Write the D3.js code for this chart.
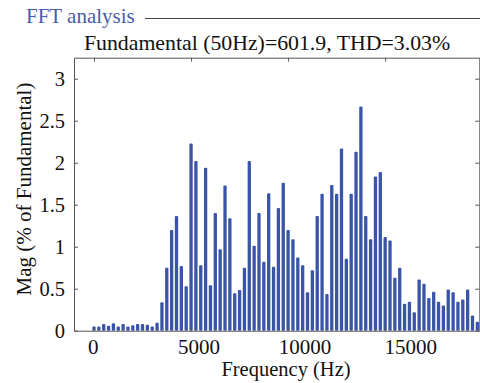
<!DOCTYPE html>
<html><head><meta charset="utf-8">
<script src="https://cdn.jsdelivr.net/npm/d3@7/dist/d3.min.js"></script>
<style>
html,body{margin:0;padding:0;background:#fff;}
svg{display:block;}
</style></head>
<body>
<svg id="chart" width="480" height="383"></svg>
<script>
// ---- data ----
const harmonicStepHz = 250;
const magnitudes = [
  0.05, 0.05, 0.08, 0.06, 0.09, 0.05, 0.08, 0.05, 0.065, 0.08, 0.08, 0.07, 0.05, 0.095,
  0.34, 0.75, 1.2, 1.365, 0.77, 0.53, 2.23, 2.02, 0.78, 1.94, 0.54, 1.40, 0.97, 1.73,
  1.34, 0.445, 0.485, 0.75, 2.02, 1.01, 1.40, 0.82, 1.635, 0.76, 1.46, 1.76, 1.2, 1.09,
  0.87, 0.78, 0.457, 0.72, 1.365, 1.63, 0.437, 1.735, 1.63, 2.17, 0.857, 1.63, 2.13, 2.67,
  1.365, 1.09, 1.835, 1.89, 1.115, 1.075, 0.63, 0.75, 0.32, 0.345, 0.22, 0.61, 0.56, 0.39,
  0.465, 0.345, 0.30, 0.49, 0.457, 0.345, 0.37, 0.49, 0.18, 0.107
];
const frequencies = magnitudes.map((_, i) => i * harmonicStepHz);
const xTicks = [0, 5000, 10000, 15000];
const yTicks = [0, 0.5, 1, 1.5, 2, 2.5, 3];
const headerText = "FFT analysis";
const titleText = "Fundamental (50Hz)=601.9, THD=3.03%";
const xLabelText = "Frequency (Hz)";
const yLabelText = "Mag (% of Fundamental)";

// ---- layout ----
const FONT = "'Liberation Serif', 'Times New Roman', serif";
const svg = d3.select("#chart").attr("font-family", "Liberation Serif").style("font-family", FONT);
const L = 74, R = 479.3, T = 57.7, B = 330.7;
const barColor = "#3a54a8";
const axisColor = "#555";

const x = d3.scaleLinear().domain([-1030, 19850]).range([L, R]);
const xLab = d3.scaleLinear().domain([0, 15000]).range([92.8, 410.2]);
const y = d3.scaleLinear().domain([0, 3.25]).range([B, T]);

function txt(sel) { return sel.attr("font-family", "Liberation Serif").style("font-family", FONT); }

// bars
const g = svg.append("g");
g.selectAll("rect.bar").data(frequencies).join("rect").attr("class", "bar")
  .attr("x", d => x(d) - 1.65).attr("width", 3.3)
  .attr("y", (d, i) => y(magnitudes[i]))
  .attr("height", (d, i) => y(0) - y(magnitudes[i]))
  .attr("rx", 1).attr("fill", barColor);

// axes
function styleAxis(sel) {
  sel.attr("font-family", "Liberation Serif").style("font-family", FONT);
  sel.selectAll("path").attr("stroke", axisColor);
  sel.selectAll("line").attr("stroke", axisColor);
  sel.selectAll("text").attr("fill", "#111").call(txt);
}
const yLeft = svg.append("g").attr("transform", `translate(${L},0)`)
  .call(d3.axisLeft(y).tickValues(yTicks).tickSizeInner(-4).tickSizeOuter(0).tickPadding(9)
    .tickFormat(d3.format("")));
yLeft.selectAll("text").attr("font-size", 20.5);
styleAxis(yLeft);

const yRight = svg.append("g").attr("transform", `translate(${R},0)`)
  .call(d3.axisRight(y).tickValues(yTicks).tickSizeInner(-4).tickSizeOuter(0).tickFormat(""));
styleAxis(yRight);

const xTop = svg.append("g").attr("transform", `translate(0,${T})`)
  .call(d3.axisTop(x).tickValues(xTicks).tickSizeInner(-4).tickSizeOuter(0).tickFormat(""));
styleAxis(xTop);

const xBottomTicks = svg.append("g").attr("transform", `translate(0,${B})`)
  .call(d3.axisBottom(x).tickValues(xTicks).tickSizeInner(-4).tickSizeOuter(0).tickFormat(""));
styleAxis(xBottomTicks);

const xBottomLabels = svg.append("g").attr("transform", `translate(0,${B})`)
  .call(d3.axisBottom(xLab).tickValues(xTicks).tickSize(0).tickPadding(8)
    .tickFormat(d3.format("d")));
xBottomLabels.select("path").remove();
xBottomLabels.selectAll("text").attr("font-size", 21);
styleAxis(xBottomLabels);

// axis labels
txt(svg.append("text")).attr("x", 286).attr("y", 376).attr("font-size", 20.5)
  .attr("text-anchor", "middle").attr("fill", "#111").text(xLabelText);
txt(svg.append("text")).attr("transform", "translate(31,189) rotate(-90)")
  .attr("font-size", 21).attr("text-anchor", "middle").attr("fill", "#111").text(yLabelText);

// header
const head = svg.append("g").attr("class", "header");
txt(head.append("text")).attr("x", 26).attr("y", 23).attr("font-size", 21)
  .attr("fill", "#4a5bab").text(headerText);
head.append("line").attr("x1", 145).attr("x2", 480).attr("y1", 18.5).attr("y2", 18.5)
  .attr("stroke", "#444").attr("stroke-width", 1);

// title
txt(head.append("text")).attr("x", 267).attr("y", 50).attr("font-size", 21.8)
  .attr("text-anchor", "middle").attr("fill", "#111").text(titleText);
</script>
</body></html>
